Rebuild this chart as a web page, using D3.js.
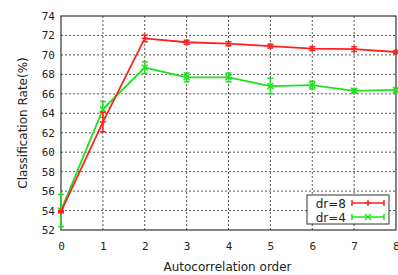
<!DOCTYPE html>
<html>
<head>
<meta charset="utf-8">
<script src="https://cdn.jsdelivr.net/npm/d3@7"></script>
<style>
  body { margin: 0; background: #fff; }
  .tick text { font-family: "DejaVu Sans Mono", monospace; font-size: 11px; fill: #222; }
  .lbl { font-family: "DejaVu Sans", sans-serif; font-size: 12px; fill: #222; }
</style>
</head>
<body>
<div id="chart"></div>
<script>
// autocorrelation order
const orders = [0, 1, 2, 3, 4, 5, 6, 7, 8];
// dr=8
const dr8 = [53.9, 63.1, 71.7, 71.3, 71.15, 70.9, 70.65, 70.6, 70.3];
const dr8Err = [0.1, 1.0, 0.35, 0.2, 0.2, 0.2, 0.2, 0.25, 0.15];
// dr=4
const dr4 = [54.0, 64.4, 68.7, 67.7, 67.7, 66.8, 66.9, 66.3, 66.4];
const dr4Err = [1.65, 0.8, 0.6, 0.45, 0.45, 0.8, 0.4, 0.25, 0.25];
const yTicks = [52, 54, 56, 58, 60, 62, 64, 66, 68, 70, 72, 74];

const width = 398, height = 275;
const margin = { top: 16, right: 2, bottom: 45, left: 61 };

const svg = d3.select("#chart").append("svg")
  .attr("width", width).attr("height", height);

const x = d3.scaleLinear().domain([0, 8]).range([margin.left, width - margin.right]);
const y = d3.scaleLinear().domain([52, 74]).range([height - margin.bottom, margin.top]);

// grid
svg.append("g").selectAll("line.gx")
  .data(orders.slice(1, -1)).enter().append("line")
  .attr("x1", d => x(d)).attr("x2", d => x(d))
  .attr("y1", y(52)).attr("y2", y(74))
  .attr("stroke", "#555").attr("stroke-width", 1).attr("stroke-dasharray", "2,2");
svg.append("g").selectAll("line.gy")
  .data(yTicks.slice(1, -1)).enter().append("line")
  .attr("x1", x(0)).attr("x2", x(8))
  .attr("y1", d => y(d)).attr("y2", d => y(d))
  .attr("stroke", "#555").attr("stroke-width", 1).attr("stroke-dasharray", "2,2");

// axes
const xAxis = svg.append("g")
  .attr("transform", `translate(0,${y(52)})`)
  .call(d3.axisBottom(x).tickValues(orders).tickFormat(d3.format("d")).tickSize(0).tickPadding(12));
xAxis.select(".domain").remove();
const yAxis = svg.append("g")
  .attr("transform", `translate(${x(0)},0)`)
  .call(d3.axisLeft(y).tickValues(yTicks).tickSize(0).tickPadding(6));
yAxis.select(".domain").remove();

// frame
svg.append("rect")
  .attr("x", x(0)).attr("y", y(74))
  .attr("width", x(8) - x(0)).attr("height", y(52) - y(74))
  .attr("fill", "none").attr("stroke", "#333").attr("stroke-width", 1.2);

svg.append("text").attr("class", "lbl")
  .attr("x", (x(0) + x(8)) / 2 - 1).attr("y", 271)
  .attr("text-anchor", "middle").text("Autocorrelation order");
svg.append("text").attr("class", "lbl")
  .attr("transform", `translate(27,${(y(52) + y(74)) / 2}) rotate(-90)`)
  .attr("text-anchor", "middle").text("Classification Rate(%)");

const series = [
  { name: "dr=8", vals: dr8, err: dr8Err, color: "#ff2020", mark: "plus" },
  { name: "dr=4", vals: dr4, err: dr4Err, color: "#20e020", mark: "cross" }
];

const line = d3.line().x((d, i) => x(orders[i])).y(d => y(d));
const cap = 3;

function marker(g, cx, cy, type, color) {
  const s = 3;
  if (type === "plus") {
    g.append("path").attr("d", `M${cx - s},${cy}H${cx + s}M${cx},${cy - s}V${cy + s}`)
      .attr("stroke", color).attr("stroke-width", 1.5);
  } else {
    g.append("path").attr("d", `M${cx - s},${cy - s}L${cx + s},${cy + s}M${cx - s},${cy + s}L${cx + s},${cy - s}`)
      .attr("stroke", color).attr("stroke-width", 1.5);
  }
}

series.slice().reverse().forEach(s => {
  const g = svg.append("g");
  g.append("path").datum(s.vals).attr("d", line)
    .attr("fill", "none").attr("stroke", s.color).attr("stroke-width", 1.8);
  s.vals.forEach((v, i) => {
    const cx = x(orders[i]);
    const lo = y(v - s.err[i]), hi = y(v + s.err[i]);
    g.append("path")
      .attr("d", `M${cx},${lo}V${hi}M${cx - cap},${lo}H${cx + cap}M${cx - cap},${hi}H${cx + cap}`)
      .attr("stroke", s.color).attr("stroke-width", 1.5).attr("fill", "none");
    marker(g, cx, y(v), s.mark, s.color);
  });
});

// legend
const lg = svg.append("g");
lg.append("rect").attr("x", 307).attr("y", 195).attr("width", 82).attr("height", 29)
  .attr("fill", "#fff").attr("stroke", "#333").attr("stroke-width", 1);
series.forEach((s, i) => {
  const ly = 203 + i * 14;
  lg.append("text").attr("class", "lbl").attr("x", 346).attr("y", ly + 4.5)
    .attr("text-anchor", "end").text(s.name);
  lg.append("path")
    .attr("d", `M352,${ly}H384M352,${ly - 3}V${ly + 3}M384,${ly - 3}V${ly + 3}`)
    .attr("stroke", s.color).attr("stroke-width", 1.5);
  marker(lg, 368, ly, s.mark, s.color);
});
</script>
</body>
</html>
